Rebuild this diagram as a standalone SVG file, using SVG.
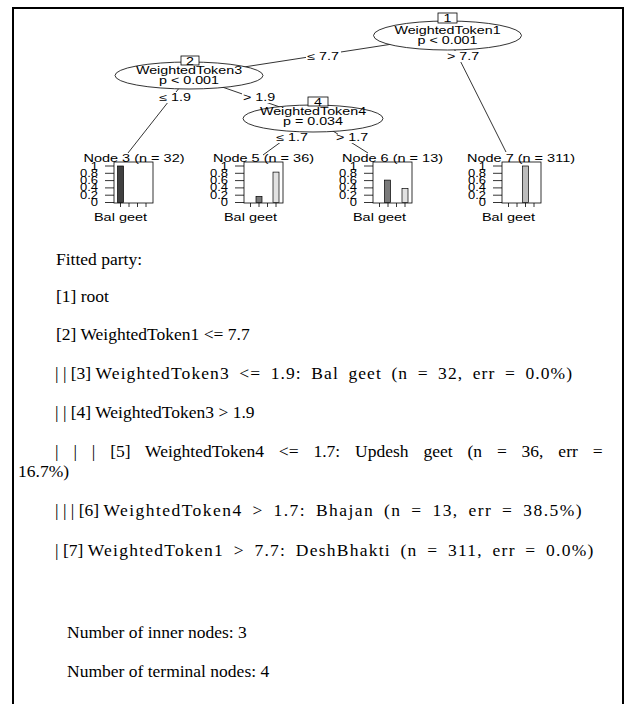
<svg xmlns="http://www.w3.org/2000/svg" xmlns:xlink="http://www.w3.org/1999/xlink" width="625" height="704" viewBox="0 0 625 704">
<style>
.t{font-family:"Liberation Sans",Arial,sans-serif;font-size:10px;fill:#000}
.m{text-anchor:middle}
.e{text-anchor:end}
.node{fill:#fff;stroke:#000;stroke-width:0.8}
.edge{stroke:#000;stroke-width:0.8;fill:none}
.bar{stroke:#000;stroke-width:0.7}
.p{font-family:"Liberation Serif","Times New Roman",serif;font-size:17.5px;fill:#000}
</style>
<defs>
<g id="hax">
<rect x="0" y="162" width="39" height="41" fill="none" stroke="#000" stroke-width="0.8"/>
<path d="M-9 166H0M-9 173.3H0M-9 180.6H0M-9 187.9H0M-9 195.2H0M-9 202.5H0M6.5 203V207M15 203V207M23.5 203V207M32 203V207" stroke="#000" stroke-width="0.8"/>
<text class="t e" transform="translate(-16 169.5) scale(1.3 1)">1</text>
<text class="t e" transform="translate(-16 176.8) scale(1.3 1)">0.8</text>
<text class="t e" transform="translate(-16 184.1) scale(1.3 1)">0.6</text>
<text class="t e" transform="translate(-16 191.4) scale(1.3 1)">0.4</text>
<text class="t e" transform="translate(-16 198.7) scale(1.3 1)">0.2</text>
<text class="t e" transform="translate(-16 206) scale(1.3 1)">0</text>
<text class="t m" transform="translate(6.5 221) scale(1.45 1)">Bal geet</text>
</g>
</defs>
<rect x="13" y="8" width="610" height="700" fill="none" stroke="#000" stroke-width="2"/>

<g id="connectors">
<path class="edge" d="M447.5 35.5L189 75.5"/>
<path class="edge" d="M447.5 35.5L506 152"/>
<path class="edge" d="M189 75.5L128 153"/>
<path class="edge" d="M189 75.5L313 118.5"/>
<path class="edge" d="M313 118.5L263 155"/>
<path class="edge" d="M313 118.5L368 153"/>
<g fill="#fff">
<rect x="306" y="51" width="35" height="11"/>
<rect x="446" y="51" width="35" height="11"/>
<rect x="158" y="92" width="34" height="11"/>
<rect x="242" y="92" width="34" height="11"/>
<rect x="275" y="132" width="34" height="11"/>
<rect x="338" y="132" width="30" height="11"/>
</g>
<text class="t m" transform="translate(323 59.5) scale(1.43 1)">≤ 7.7</text>
<text class="t m" transform="translate(463 59.5) scale(1.43 1)">&gt; 7.7</text>
<text class="t m" transform="translate(175 100.5) scale(1.43 1)">≤ 1.9</text>
<text class="t m" transform="translate(259 100.5) scale(1.43 1)">&gt; 1.9</text>
<text class="t m" transform="translate(292 140.5) scale(1.43 1)">≤ 1.7</text>
<text class="t m" transform="translate(352 140.5) scale(1.43 1)">&gt; 1.7</text>
</g>

<g id="node1">
<ellipse class="node" cx="447.5" cy="35.5" rx="74" ry="14.5"/>
<rect class="node" x="438" y="13" width="19" height="10"/>
<text class="t m" transform="translate(447.5 22) scale(1.43 1)">1</text>
<text class="t m" transform="translate(447.5 33.5) scale(1.43 1)">WeightedToken1</text>
<text class="t m" transform="translate(447.5 44) scale(1.43 1)">p &lt; 0.001</text>
</g>
<g id="node2">
<ellipse class="node" cx="189" cy="75.5" rx="74" ry="13.5"/>
<rect class="node" x="181" y="56" width="18" height="9"/>
<text class="t m" transform="translate(190 64.5) scale(1.43 1)">2</text>
<text class="t m" transform="translate(189 74) scale(1.43 1)">WeightedToken3</text>
<text class="t m" transform="translate(189 84) scale(1.43 1)">p &lt; 0.001</text>
</g>
<g id="node4">
<ellipse class="node" cx="313" cy="118.5" rx="70" ry="13.5"/>
<rect class="node" x="308" y="97" width="20" height="9"/>
<text class="t m" transform="translate(318 105.5) scale(1.43 1)">4</text>
<text class="t m" transform="translate(313 115) scale(1.43 1)">WeightedToken4</text>
<text class="t m" transform="translate(313 125) scale(1.43 1)">p = 0.034</text>
</g>

<g id="node3">
<text class="t m" transform="translate(134 161.5) scale(1.45 1)">Node 3 (n = 32)</text>
<use xlink:href="#hax" href="#hax" transform="translate(114 0)"/>
<rect class="bar" x="117.5" y="166" width="6" height="36.5" fill="#404040"/>
</g>
<g id="node5">
<text class="t m" transform="translate(263.5 161.5) scale(1.45 1)">Node 5 (n = 36)</text>
<use xlink:href="#hax" href="#hax" transform="translate(244 0)"/>
<rect class="bar" x="256" y="196.4" width="6" height="6.1" fill="#7a7a7a"/>
<rect class="bar" x="273" y="172.1" width="6" height="30.4" fill="#e2e2e2"/>
</g>
<g id="node6">
<text class="t m" transform="translate(392.5 161.5) scale(1.45 1)">Node 6 (n = 13)</text>
<use xlink:href="#hax" href="#hax" transform="translate(373 0)"/>
<rect class="bar" x="384.5" y="180.1" width="6" height="22.4" fill="#7a7a7a"/>
<rect class="bar" x="402" y="188.5" width="6" height="14" fill="#e2e2e2"/>
</g>
<g id="node7">
<text class="t m" transform="translate(521 161.5) scale(1.45 1)">Node 7 (n = 311)</text>
<use xlink:href="#hax" href="#hax" transform="translate(502 0)"/>
<rect class="bar" x="522.5" y="166" width="6" height="36.5" fill="#bdbdbd"/>
</g>

<g id="output">
<text class="p" x="56" y="265">Fitted party:</text>
<text class="p" x="56" y="302">[1] root</text>
<text class="p" x="56" y="340">[2] WeightedToken1 &lt;= 7.7</text>
<text class="p" x="55" y="379">| | [3] <tspan word-spacing="4" letter-spacing="1.1">WeightedToken3 &lt;= 1.9: Bal geet (n = 32, err = 0.0%)</tspan></text>
<text class="p" x="55" y="418">| | [4] WeightedToken3 &gt; 1.9</text>
<text class="p" x="55" y="457" word-spacing="10.5">| | | [5] WeightedToken4 &lt;= 1.7: Updesh geet (n = 36, err =</text>
<text class="p" x="18" y="477">16.7%)</text>
<text class="p" x="55" y="516">| | | [6] <tspan word-spacing="4" letter-spacing="1.45">WeightedToken4 &gt; 1.7: Bhajan (n = 13, err = 38.5%)</tspan></text>
<text class="p" x="55" y="556">| [7] <tspan word-spacing="4" letter-spacing="1.25">WeightedToken1 &gt; 7.7: DeshBhakti (n = 311, err = 0.0%)</tspan></text>
<text class="p" x="67" y="638">Number of inner nodes: 3</text>
<text class="p" x="67" y="677">Number of terminal nodes: 4</text>
</g>
</svg>
